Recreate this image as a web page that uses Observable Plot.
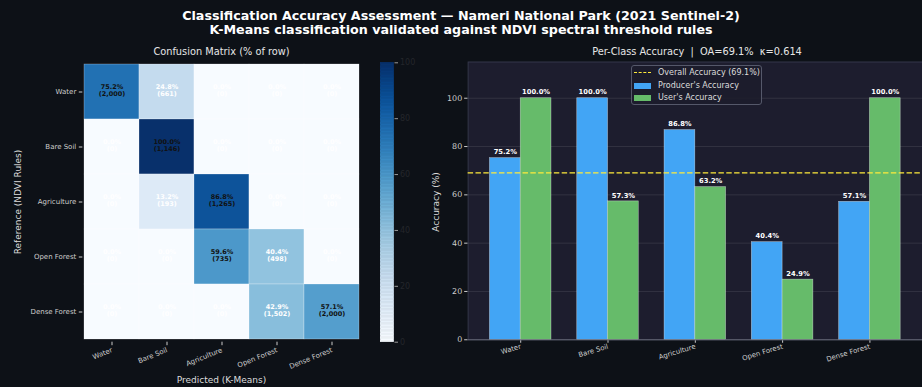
<!DOCTYPE html>
<html>
<head>
<meta charset="utf-8">
<script src="https://cdn.jsdelivr.net/npm/d3@7"></script>
<script src="https://cdn.jsdelivr.net/npm/@observablehq/plot@0.6"></script>
<style>
  html, body { margin: 0; padding: 0; background: #0d1117; }
  #fig { position: relative; width: 922px; height: 387px; overflow: hidden; background: #0d1117;
         font-family: "DejaVu Sans", sans-serif; color: #e6e6e6; }
  .abs { position: absolute; white-space: pre; }
  .title { left: 0; width: 922px; text-align: center; font-weight: bold; font-size: 12.7px; line-height: 14px; color: #ffffff; }
  .sub { font-size: 9.8px; line-height: 12px; color: #e6e6e6; transform: translate(-50%, -50%); }
  .axlab { font-size: 9px; line-height: 11px; color: #dddddd; transform: translate(-50%, -50%); }
  .axlab.v { transform: translate(-50%, -50%) rotate(-90deg); }
  .cbar g[aria-label="y-axis"] line, .cbar g[aria-label="y-axis tick"] path { stroke: #9a9a9a; }
  #bars g[aria-label="x-axis"] text, #bars g[aria-label="x-axis tick label"] text { font-size: 7px; }
  #legend { left: 631px; top: 65px; width: 131px; height: 40px; border: 1px solid #55586a; border-radius: 3px;
            background: rgba(28, 28, 43, 0.85); box-sizing: border-box; font-size: 8px; color: #dddddd; }
  .li { position: absolute; left: 2px; height: 12px; line-height: 12px; }
  .sw { position: absolute; left: 0; top: 3px; width: 17px; height: 6px; }
  .dash { position: absolute; left: 0; top: 5px; width: 17px; height: 0; border-top: 1.5px dashed #ffeb3b; }
  .lt { position: absolute; left: 24px; top: 0; }
</style>
</head>
<body>
<div id="fig">
  <div class="abs title" style="top:9px">Classification Accuracy Assessment — Nameri National Park (2021 Sentinel-2)</div>
  <div class="abs title" style="top:23px">K-Means classification validated against NDVI spectral threshold rules</div>
  <div class="abs sub" style="left:221.5px; top:52px">Confusion Matrix (% of row)</div>
  <div class="abs sub" id="barTitle" style="left:697px; top:52px"></div>
  <div class="abs axlab v" style="left:18px; top:202px">Reference (NDVI Rules)</div>
  <div class="abs axlab" style="left:221.5px; top:380px">Predicted (K-Means)</div>
  <div class="abs axlab v" style="left:436px; top:202px">Accuracy (%)</div>
  <div class="abs" id="heat" style="left:0; top:0"></div>
  <div class="abs cbar" id="cbar" style="left:370px; top:0"></div>
  <div class="abs" id="bars" style="left:422px; top:0"></div>
  <div class="abs" id="legend">
    <div class="li" style="top:1px"><span class="dash"></span><span class="lt" id="oaLegend"></span></div>
    <div class="li" style="top:14px"><span class="sw" style="background:#42a5f5"></span><span class="lt">Producer's Accuracy</span></div>
    <div class="li" style="top:26px"><span class="sw" style="background:#66bb6a"></span><span class="lt">User's Accuracy</span></div>
  </div>
</div>
<script>
// Land-cover classes (rows = reference, columns = predicted)
const classes = ["Water", "Bare Soil", "Agriculture", "Open Forest", "Dense Forest"];

// Confusion matrix, percentage of each reference row
const matrixPct = [
  [75.2, 24.8, 0.0, 0.0, 0.0],
  [0.0, 100.0, 0.0, 0.0, 0.0],
  [0.0, 13.2, 86.8, 0.0, 0.0],
  [0.0, 0.0, 59.6, 40.4, 0.0],
  [0.0, 0.0, 0.0, 42.9, 57.1]
];

// Confusion matrix, pixel counts
const matrixCount = [
  [2000, 661, 0, 0, 0],
  [0, 1146, 0, 0, 0],
  [0, 193, 1265, 0, 0],
  [0, 0, 735, 498, 0],
  [0, 0, 0, 1502, 2000]
];

// Per-class accuracies (%)
const producerAcc = [75.2, 100.0, 86.8, 40.4, 57.1];
const userAcc = [100.0, 57.3, 63.2, 24.9, 100.0];

const overallAcc = 69.1;
const kappa = 0.614;

const colorbarTicks = [0, 20, 40, 60, 80, 100];
const accuracyTicks = [0, 20, 40, 60, 80, 100];

const FONT = "DejaVu Sans";
const fmtCount = d3.format(",");

document.getElementById("barTitle").textContent =
  `Per-Class Accuracy  |  OA=${overallAcc.toFixed(1)}%  κ=${kappa.toFixed(3)}`;
document.getElementById("oaLegend").textContent = `Overall Accuracy (${overallAcc.toFixed(1)}%)`;

// ---------- Confusion matrix heatmap ----------
const cells = [];
classes.forEach((ref, i) => classes.forEach((pred, j) => {
  cells.push({ref, pred, pct: matrixPct[i][j], count: matrixCount[i][j]});
}));
const cellLabel = d => `${d.pct.toFixed(1)}%\n(${fmtCount(d.count)})`;

const colorScale = {type: "linear", scheme: "blues", domain: [0, 100]};

const heat = Plot.plot({
  width: 375, height: 387,
  marginLeft: 82.3, marginRight: 13.7, marginTop: 62.3, marginBottom: 45.3,
  style: {background: "transparent", color: "#cccccc", fontFamily: FONT, fontSize: "7px", overflow: "visible"},
  x: {domain: classes, padding: 0, label: null, tickSize: 3.5, tickPadding: 4, tickRotate: -22},
  y: {domain: classes, padding: 0, label: null, tickSize: 3.5, tickPadding: 3},
  color: colorScale,
  marks: [
    Plot.cell(cells, {x: "pred", y: "ref", fill: "pct", inset: 0, stroke: "#ffffff", strokeWidth: 0.5, strokeOpacity: 0.5}),
    Plot.text(cells, {filter: d => d.pct > 50, x: "pred", y: "ref", text: cellLabel, fill: "#111111",
      fontWeight: "bold", fontSize: 6.5, lineHeight: 1.12, dy: -1.5}),
    Plot.text(cells, {filter: d => d.pct <= 50, x: "pred", y: "ref", text: cellLabel, fill: "#ffffff",
      fontWeight: "bold", fontSize: 6.5, lineHeight: 1.12, dy: -1.5})
  ]
});
document.getElementById("heat").append(heat);

// ---------- Colorbar ----------
const rampStops = d3.range(0, 100, 0.5);
const cbar = Plot.plot({
  width: 60, height: 387,
  marginLeft: 10.5, marginRight: 36.5, marginTop: 62.3, marginBottom: 45.3,
  style: {background: "transparent", color: "#24262b", fontFamily: FONT, fontSize: "8px", overflow: "visible"},
  y: {domain: [0, 100], axis: "right", ticks: colorbarTicks, label: null, tickSize: 3.5, tickPadding: 2.5},
  color: colorScale,
  marks: [
    Plot.rect(rampStops, {y1: d => d, y2: d => d + 0.5, fill: d => d, stroke: d => d, strokeWidth: 0.6})
  ]
});
document.getElementById("cbar").append(cbar);

// ---------- Per-class accuracy bars ----------
const accRows = classes.map((cls, i) => ({cls, producer: producerAcc[i], user: userAcc[i]}));

const BW = 504, ML = 46, MR = 0;
const padIn = 0.3, padOut = 0.235;
const step = (BW - ML - MR) / (classes.length - padIn + 2 * padOut);
const half = step * (1 - padIn) / 2;

const barLabel = {fill: "#ffffff", fontWeight: "bold", fontSize: 6.8, dy: -6};

const bars = Plot.plot({
  width: BW, height: 387,
  marginLeft: ML, marginRight: MR, marginTop: 62, marginBottom: 45,
  style: {background: "transparent", color: "#cccccc", fontFamily: FONT, fontSize: "8px", overflow: "visible"},
  x: {domain: classes, paddingInner: padIn, paddingOuter: padOut, label: null,
      tickSize: 3.5, tickPadding: 3, tickRotate: -17},
  y: {domain: [0, 115], ticks: accuracyTicks, label: null, tickSize: 3.5, tickPadding: 2.5},
  marks: [
    Plot.frame({fill: "#1d1d2e", stroke: "#34374a"}),
    Plot.ruleY(accuracyTicks, {stroke: "#ffffff", strokeOpacity: 0.12, strokeWidth: 0.8}),
    Plot.barY(accRows, {x: "cls", y: "producer", fill: "#42a5f5", insetRight: half,
      stroke: "#ffffff", strokeOpacity: 0.55, strokeWidth: 0.6}),
    Plot.barY(accRows, {x: "cls", y: "user", fill: "#66bb6a", insetLeft: half,
      stroke: "#ffffff", strokeOpacity: 0.55, strokeWidth: 0.6}),
    Plot.ruleY([0], {stroke: "#6a6d7a", strokeWidth: 0.8}),
    Plot.ruleY([overallAcc], {stroke: "#ffeb3b", strokeWidth: 1.5, strokeDasharray: "5.5,2.4"}),
    Plot.text(accRows, {x: "cls", y: "producer", text: d => `${d.producer.toFixed(1)}%`, dx: -half / 2, ...barLabel}),
    Plot.text(accRows, {x: "cls", y: "user", text: d => `${d.user.toFixed(1)}%`, dx: half / 2, ...barLabel})
  ]
});
document.getElementById("bars").append(bars);
</script>
</body>
</html>
